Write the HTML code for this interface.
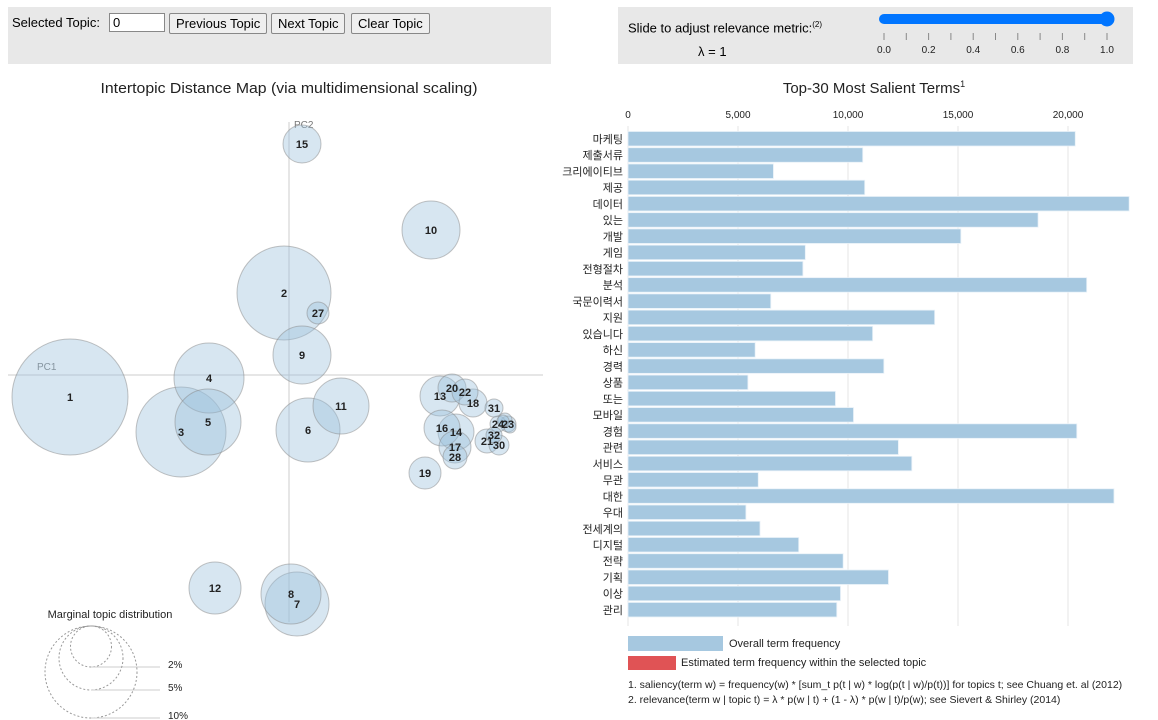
<!DOCTYPE html>
<html><head><meta charset="utf-8">
<style>
body{margin:0;width:1158px;height:720px;background:#fff;font-family:"Liberation Sans","Noto Sans CJK KR",sans-serif;overflow:hidden;position:relative}
.panel{position:absolute;background:#e8e8e8}
button{position:absolute;font-family:"Liberation Sans",sans-serif;font-size:13px;height:21px;padding:0 6px;background:#efefef;border:1px solid #888;border-radius:2px}
</style></head><body>
<div class="panel" style="left:8px;top:7px;width:543px;height:57px">
<span style="position:absolute;left:4px;top:8px;font-size:13px">Selected Topic:</span>
<input value="0" style="position:absolute;left:101px;top:6px;width:48px;height:15px;font-size:13px;padding:1px 3px;border:1px solid #888">
<button style="left:161px;top:6px">Previous Topic</button>
<button style="left:263px;top:6px">Next Topic</button>
<button style="left:343px;top:6px">Clear Topic</button>
</div>
<div class="panel" style="left:618px;top:7px;width:515px;height:57px">
<span style="position:absolute;left:10px;top:13px;font-size:13px">Slide to adjust relevance metric:<sup style="font-size:8px">(2)</sup></span>
<span style="position:absolute;left:80px;top:37px;font-size:13px">λ = 1</span>
</div>
<svg width="1158" height="720" style="position:absolute;left:0;top:0" id="svg">
<g>
<rect x="879" y="14" width="230" height="10" rx="5" fill="#0075ff"/>
<circle cx="1107" cy="19" r="7.5" fill="#0075ff"/>
</g>
<g id="slticks" font-size="10" text-anchor="middle" fill="#222"></g>
<text x="289" y="93" text-anchor="middle" font-size="15" textLength="377" lengthAdjust="spacingAndGlyphs" fill="#222">Intertopic Distance Map (via multidimensional scaling)</text>
<text x="874" y="93" text-anchor="middle" font-size="15" fill="#222">Top-30 Most Salient Terms<tspan font-size="9" dy="-6">1</tspan></text>
<line x1="8" y1="375" x2="543" y2="375" stroke="#ccc"/>
<line x1="289" y1="122" x2="289" y2="622" stroke="#ccc"/>
<text x="37" y="370" font-size="10" fill="#777">PC1</text>
<text x="294" y="128" font-size="10" fill="#777">PC2</text>
<g id="circles"></g>
<g id="labels" font-size="11" font-weight="bold" text-anchor="middle" fill="#222"></g>
<text x="110" y="618" text-anchor="middle" font-size="11" fill="#222">Marginal topic distribution</text>
<g id="marg"></g>
<g id="bars"></g>
<rect x="628" y="636" width="95" height="15" fill="#a6c8e0"/>
<text x="729" y="647" font-size="11" fill="#222">Overall term frequency</text>
<rect x="628" y="656" width="48" height="14" fill="#e05355"/>
<text x="681" y="666" font-size="11" fill="#222">Estimated term frequency within the selected topic</text>
<text x="628" y="688" font-size="10.5" fill="#222">1. saliency(term w) = frequency(w) * [sum_t p(t | w) * log(p(t | w)/p(t))] for topics t; see Chuang et. al (2012)</text>
<text x="628" y="703" font-size="10.5" fill="#222">2. relevance(term w | topic t) = λ * p(w | t) + (1 - λ) * p(w | t)/p(w); see Sievert &amp; Shirley (2014)</text>
</svg>
<script>
const terms=["마케팅","제출서류","크리에이티브","제공","데이터","있는","개발","게임","전형절차","분석","국문이력서","지원","있습니다","하신","경력","상품","또는","모바일","경험","관련","서비스","무관","대한","우대","전세계의","디지털","전략","기획","이상","관리"];
const freqs=[20330,10670,6610,10760,22780,18640,15130,8060,7950,20850,6490,13940,11120,5780,11630,5450,9430,10250,20400,12290,12900,5920,22090,5360,6000,7760,9780,11840,9660,9490];
const xTicks=[0,5000,10000,15000,20000];
const topicIds=[1,2,3,4,5,6,7,8,9,10,11,12,13,14,15,16,17,18,19,20,21,22,23,24,25,26,27,28,29,30,31,32];
const topicX=[70,284,181,209,208,308,297,291,302,431,341,215,440,456,302,442,455,473,425,452,487,465,508,498,505,510,318,455,503,499,494,494];
const topicY=[397,293,432,378,422,430,604,594,355,230,406,588,396,432,144,428,447,403,473,388,441,392,424,424,420,427,313,457,421,445,408,435];
const topicR=[58,47,45,35,33,32,32,30,29,29,28,26,20,18,19,18,16,14,16,14,12,13,8,8,7,6,11,12,6,10,9,8];
const NS="http://www.w3.org/2000/svg";
function mk(t,a,p){const e=document.createElementNS(NS,t);for(const k in a)e.setAttribute(k,a[k]);p.appendChild(e);return e;}
const xs=v=>628+v*0.022;
const ys=i=>131+i*16.24;
const bars=document.getElementById('bars');
xTicks.forEach(t=>{
 const l=mk('line',{x1:xs(t),x2:xs(t),y1:126,y2:626,stroke:'#e6e6e6'},bars);
 
 
 const tx=mk('text',{x:xs(t),y:118,'text-anchor':'middle','font-size':10,fill:'#222'},bars);
 tx.textContent=t.toLocaleString('en-US');
 
 
});
terms.forEach((w,i)=>{
 const r=mk('rect',{x:628,y:ys(i)+0.5,width:xs(freqs[i])-628,height:14.5,fill:'#a6c8e0',stroke:'#e8f1f8','stroke-width':0.8},bars);
 
 
 const t=mk('text',{x:623,y:ys(i)+12,'text-anchor':'end','font-size':11,fill:'#222'},bars);
 t.textContent=w;
 
 
});
const cg=document.getElementById('circles'),lg=document.getElementById('labels');
topicIds.forEach((id,i)=>{
 const c=mk('circle',{cx:topicX[i],cy:topicY[i],r:topicR[i],fill:'#9ac0dc','fill-opacity':0.4,stroke:'#888','stroke-opacity':0.5},cg);
 
 
 if(topicR[i]>=8){
 const t=mk('text',{x:topicX[i],y:topicY[i]+4},lg);
 t.textContent=id;
 
 }
});
const mg=document.getElementById('marg');
[[20.5,'2%'],[32,'5%'],[46,'10%']].forEach(([r,l])=>{
 const b=626+2*r;
 mk('circle',{cx:91,cy:626+r,r:r,fill:'none',stroke:'#999','stroke-dasharray':'2 2'},mg);
 mk('line',{x1:91,x2:160,y1:b,y2:b,stroke:'#ccc'},mg);
 const t=mk('text',{x:168,y:b+1,'font-size':10,fill:'#222'},mg);t.textContent=l;
});
const sl=document.getElementById('slticks');
for(let k=0;k<=10;k++){const x=884+k*22.3;mk('line',{x1:x,x2:x,y1:33,y2:40,stroke:'#888'},sl);
 if(k%2==0){const t=mk('text',{x:x,y:53},sl);t.textContent=(k/10).toFixed(1);}}
</script>
</body></html>
